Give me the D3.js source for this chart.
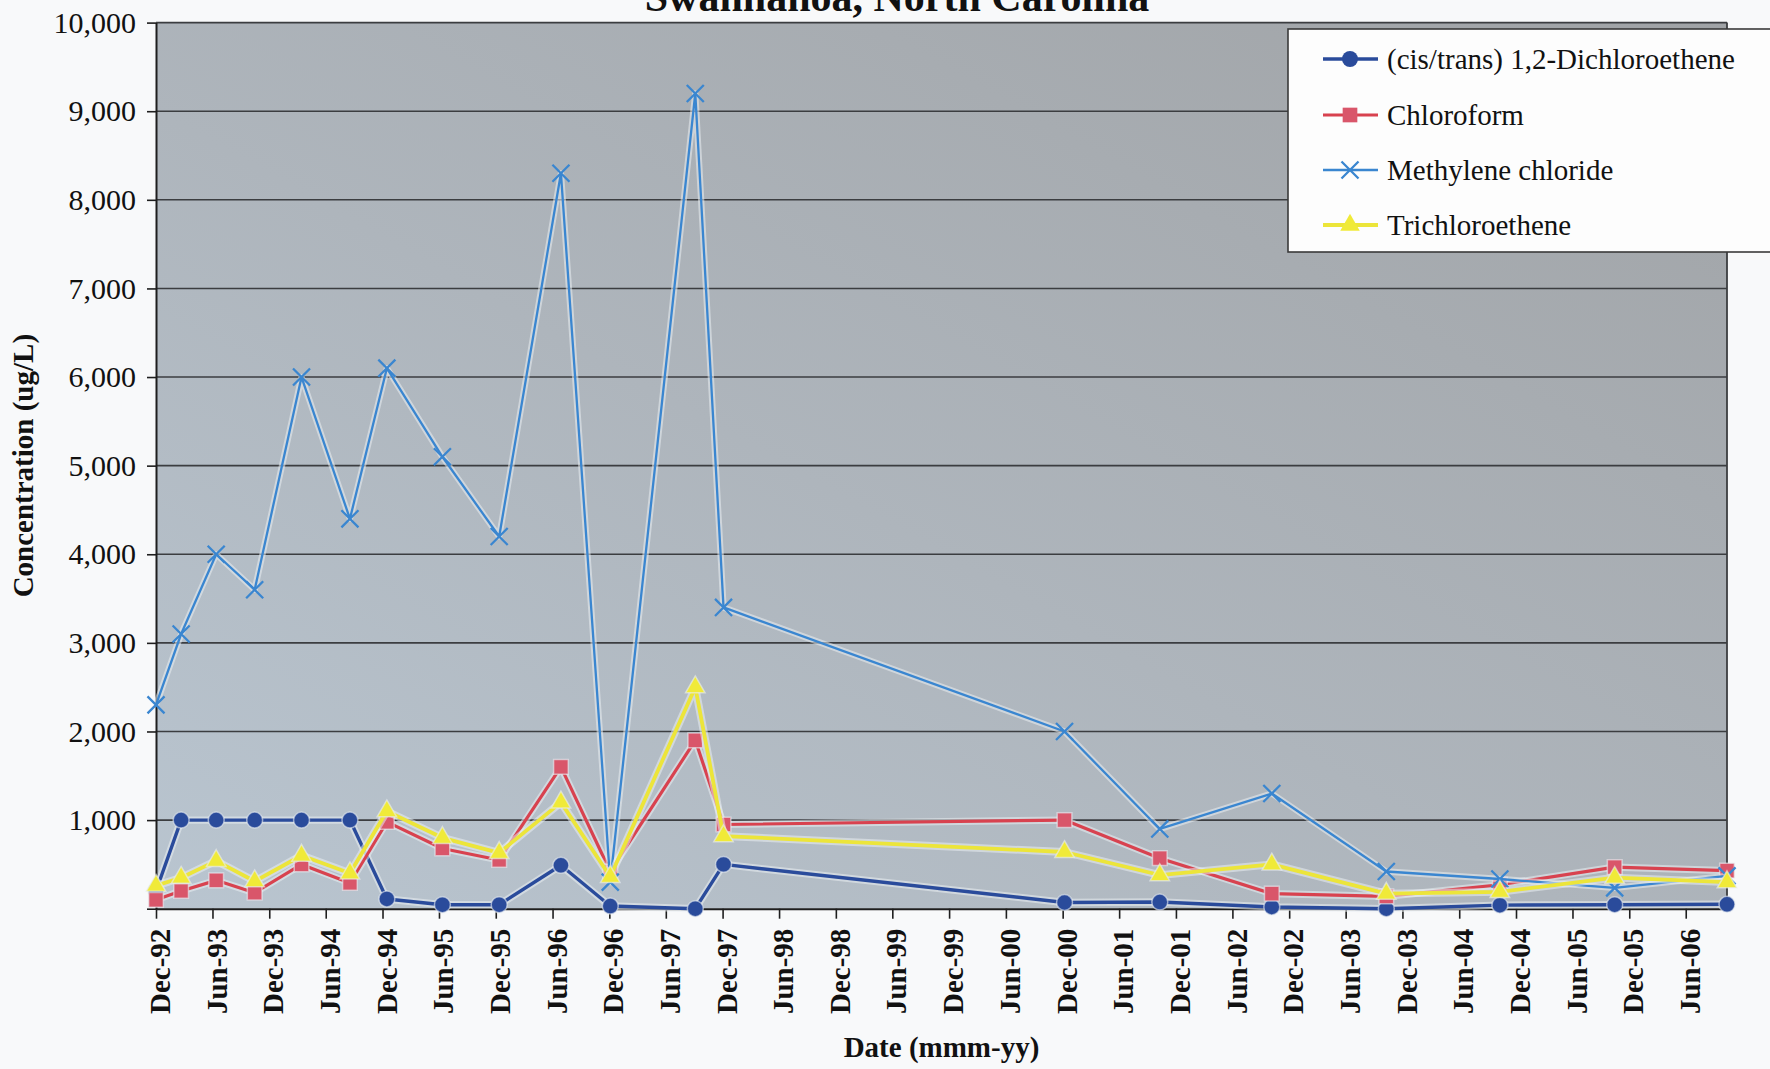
<!DOCTYPE html>
<html>
<head>
<meta charset="utf-8">
<script src="https://cdn.jsdelivr.net/npm/d3@7"></script>
<style>
  html, body { margin: 0; padding: 0; background: #f8f9fa; }
  svg { display: block; font-family: "Liberation Serif", "Times New Roman", serif; }
</style>
</head>
<body>
<svg id="chart" width="1770" height="1069"></svg>
<script>
// Sampling dates (shared by every compound)
const sampleDates = [
  "1992-12-01", "1993-02-20", "1993-06-13", "1993-10-15", "1994-03-15",
  "1994-08-18", "1994-12-15", "1995-06-12", "1995-12-12", "1996-06-28",
  "1996-12-04", "1997-09-04", "1997-12-04", "2000-12-07", "2001-10-10",
  "2002-10-06", "2003-10-10", "2004-10-10", "2005-10-15", "2006-10-12"
];

// Concentrations in ug/L
const dichloroethene    = [200, 1000, 1000, 1000, 1000, 1000, 110, 45, 45, 490, 30, 0, 500, 70, 75, 20, 0, 40, 45, 50];
const chloroform        = [100, 200, 320, 180, 500, 290, 980, 680, 550, 1600, 420, 1900, 950, 1000, 570, 170, 140, 270, 470, 430];
const methyleneChloride = [2300, 3100, 4000, 3600, 6000, 4400, 6100, 5100, 4200, 8300, 300, 9200, 3400, 2000, 900, 1300, 420, 335, 235, 370];
const trichloroethene   = [260, 350, 540, 310, 600, 400, 1100, 800, 630, 1200, 360, 2500, 820, 640, 380, 500, 170, 190, 350, 300];

const seriesNames = [
  "(cis/trans) 1,2-Dichloroethene",
  "Chloroform",
  "Methylene chloride",
  "Trichloroethene"
];

const concentrationTicks = [0, 1000, 2000, 3000, 4000, 5000, 6000, 7000, 8000, 9000, 10000];

const dateTickLabels = [
  "Dec-92", "Jun-93", "Dec-93", "Jun-94", "Dec-94", "Jun-95", "Dec-95",
  "Jun-96", "Dec-96", "Jun-97", "Dec-97", "Jun-98", "Dec-98", "Jun-99",
  "Dec-99", "Jun-00", "Dec-00", "Jun-01", "Dec-01", "Jun-02", "Dec-02",
  "Jun-03", "Dec-03", "Jun-04", "Dec-04", "Jun-05", "Dec-05", "Jun-06"
];

const titleText = "Swannanoa, North Carolina";
const yTitle = "Concentration (ug/L)";
const xTitle = "Date (mmm-yy)";

// ---- drawing ----
const svg = d3.select("#chart");
const plot = { left: 156, right: 1727, top: 22.6, bottom: 908.7 };

const parseDay = d3.timeParse("%Y-%m-%d");
const parseTick = d3.timeParse("%b-%y");
const dates = sampleDates.map(parseDay);

const x = d3.scaleTime()
  .domain([dates[0], dates[dates.length - 1]])
  .range([plot.left, plot.right]);
const y = d3.scaleLinear()
  .domain([0, 10000])
  .range([plot.bottom, plot.top]);

// X-shaped marker
const symbolX = {
  draw(ctx, size) {
    const r = Math.sqrt(size) / 2;
    ctx.moveTo(-r, -r); ctx.lineTo(r, r);
    ctx.moveTo(-r, r); ctx.lineTo(r, -r);
  }
};

const styles = [
  { values: dichloroethene, line: "#2a4b9b", fill: "#2a4b9b", width: 3.4, symbol: d3.symbolCircle, size: 200, strokeMarker: false },
  { values: chloroform, line: "#d8424f", fill: "#d9566a", width: 3.2, symbol: d3.symbolSquare, size: 215, strokeMarker: false },
  { values: methyleneChloride, line: "#3a86d0", fill: "none", width: 2.3, symbol: symbolX, size: 290, strokeMarker: true },
  { values: trichloroethene, line: "#ece53a", fill: "#f0ea38", width: 3.8, symbol: d3.symbolTriangle, size: 165, strokeMarker: false }
];

// Plot background
const defs = svg.append("defs");
const grad = defs.append("linearGradient").attr("id", "plotBg")
  .attr("x1", "0").attr("y1", "1").attr("x2", "1").attr("y2", "0");
grad.append("stop").attr("offset", "0").attr("stop-color", "#b9c5d0");
grad.append("stop").attr("offset", "0.45").attr("stop-color", "#aeb5bc");
grad.append("stop").attr("offset", "1").attr("stop-color", "#a0a3a6");

svg.append("rect")
  .attr("x", plot.left).attr("y", plot.top)
  .attr("width", plot.right - plot.left).attr("height", plot.bottom - plot.top)
  .attr("fill", "url(#plotBg)");

// Horizontal gridlines
svg.append("g").selectAll("line")
  .data(concentrationTicks.filter(d => d > 0))
  .join("line")
  .attr("x1", plot.left).attr("x2", plot.right)
  .attr("y1", d => y(d)).attr("y2", d => y(d))
  .attr("stroke", "#3b3d40").attr("stroke-width", 1.6);

// Right border of plot
svg.append("line")
  .attr("x1", plot.right).attr("x2", plot.right)
  .attr("y1", plot.top).attr("y2", plot.bottom)
  .attr("stroke", "#3b3d40").attr("stroke-width", 1.8);

// Y axis
const yAxis = svg.append("g")
  .attr("transform", `translate(${plot.left},0)`)
  .call(d3.axisLeft(y)
    .tickValues(concentrationTicks)
    .tickFormat(d => d === 0 ? "" : d3.format(",")(d))
    .tickSize(9).tickPadding(11).tickSizeOuter(0));
yAxis.select(".domain").attr("stroke", "#1e1e1e").attr("stroke-width", 2);
yAxis.selectAll(".tick line").attr("stroke", "#1e1e1e").attr("stroke-width", 1.6);
yAxis.selectAll("text")
  .attr("font-family", "Liberation Serif, Times New Roman, serif")
  .attr("font-size", 30).attr("fill", "#111");

// X axis
const xAxis = svg.append("g")
  .attr("transform", `translate(0,${plot.bottom})`)
  .call(d3.axisBottom(x)
    .tickValues(dateTickLabels.map(parseTick))
    .tickFormat(d3.timeFormat("%b-%y"))
    .tickSize(10).tickSizeOuter(0));
xAxis.select(".domain").attr("stroke", "#1e1e1e").attr("stroke-width", 2);
xAxis.selectAll(".tick line").attr("stroke", "#1e1e1e").attr("stroke-width", 1.6);
xAxis.selectAll("text")
  .attr("transform", "rotate(-90)")
  .attr("text-anchor", "end")
  .attr("x", -20).attr("y", 0).attr("dy", "0.47em")
  .attr("font-family", "Liberation Serif, Times New Roman, serif")
  .attr("font-weight", "bold")
  .attr("font-size", 29).attr("fill", "#111");

// Series
const line = d3.line().x(d => x(d.date)).y(d => y(d.value));
const seriesLayer = svg.append("g");
styles.forEach(s => {
  const pts = s.values.map((v, i) => ({ date: dates[i], value: v }));
  const g = seriesLayer.append("g");
  // pale halo around each trace
  g.append("path").datum(pts)
    .attr("d", line).attr("fill", "none")
    .attr("stroke", "#e9eef3").attr("stroke-opacity", 0.55)
    .attr("stroke-width", s.width + 4).attr("stroke-linejoin", "round");
  g.append("path").datum(pts)
    .attr("d", line).attr("fill", "none")
    .attr("stroke", s.line).attr("stroke-width", s.width)
    .attr("stroke-linejoin", "round");
  const sym = d3.symbol().type(s.symbol).size(s.size);
  g.selectAll("path.marker").data(pts).join("path")
    .attr("class", "marker")
    .attr("transform", d => `translate(${x(d.date)},${y(d.value)})`)
    .attr("d", sym)
    .attr("fill", s.strokeMarker ? "none" : s.fill)
    .attr("stroke", s.strokeMarker ? s.line : "#e9eef3")
    .attr("stroke-opacity", s.strokeMarker ? 1 : 0.6)
    .attr("stroke-width", s.strokeMarker ? 2.3 : 1.5);
});

// Legend
const legend = svg.append("g");
legend.append("rect")
  .attr("x", 1288).attr("y", 29).attr("width", 520).attr("height", 223)
  .attr("fill", "#fdfdfd").attr("stroke", "#3a3a3a").attr("stroke-width", 1.6);
const legendRows = [59, 115, 170, 225];
styles.forEach((s, i) => {
  const ly = legendRows[i];
  legend.append("line")
    .attr("x1", 1323).attr("x2", 1378).attr("y1", ly).attr("y2", ly)
    .attr("stroke", s.line).attr("stroke-width", s.width);
  legend.append("path")
    .attr("transform", `translate(1350,${ly})`)
    .attr("d", d3.symbol().type(s.symbol).size(s.size)())
    .attr("fill", s.strokeMarker ? "none" : s.fill)
    .attr("stroke", s.strokeMarker ? s.line : "none")
    .attr("stroke-width", 2.3);
  legend.append("text")
    .attr("x", 1387).attr("y", ly).attr("dy", "0.35em")
    .attr("font-size", 29).attr("fill", "#111")
    .text(seriesNames[i]);
});

// Titles
svg.append("text")
  .attr("x", 897).attr("y", 11)
  .attr("text-anchor", "middle")
  .attr("font-size", 42).attr("font-weight", "bold").attr("fill", "#111")
  .text(titleText);

svg.append("text")
  .attr("transform", `translate(33,${(plot.top + plot.bottom) / 2}) rotate(-90)`)
  .attr("text-anchor", "middle")
  .attr("font-size", 29).attr("font-weight", "bold").attr("fill", "#111")
  .text(yTitle);

svg.append("text")
  .attr("x", (plot.left + plot.right) / 2).attr("y", 1057)
  .attr("text-anchor", "middle")
  .attr("font-size", 29).attr("font-weight", "bold").attr("fill", "#111")
  .text(xTitle);
</script>
</body>
</html>
